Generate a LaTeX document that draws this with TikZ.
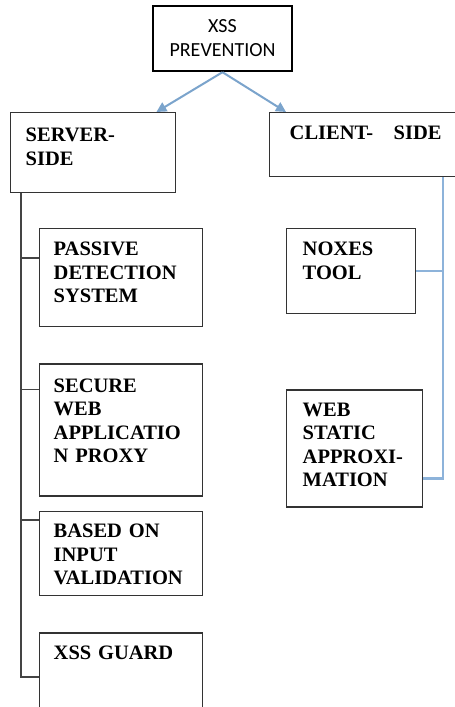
\documentclass[tikz,border=0pt]{standalone}
\usepackage{fontspec}
\setmainfont{Liberation Serif}
\newfontfamily\calibri{Carlito}
\usetikzlibrary{positioning,calc,arrows.meta}
\definecolor{linkblue}{HTML}{7BA4CC}
\definecolor{branchblue}{HTML}{8DB3DA}
\definecolor{boxgray}{HTML}{333333}
\definecolor{treegray}{HTML}{444444}
\tikzset{
    root/.style = {
        draw = black,
        line width = 2.4pt,
        align = center,
        minimum width = 139pt,
        minimum height = 65pt,
        font = \calibri\fontsize{20}{24}\selectfont,
        },
    leaf/.style = {
        draw = boxgray,
        line width = 1.4pt,
        anchor = north west,
        align = left,
        inner xsep = 14pt,
        inner ysep = 0pt,
        text width = 135pt,
        text height = 27pt,
        font = \bfseries\fontsize{20.5}{23.6}\selectfont,
        },
    link/.style = {
        draw = linkblue,
        line width = 2pt,
        -{Triangle[length=10pt,width=10pt]},
        },
    client branch/.style = {
        draw = branchblue,
        line width = 2.2pt,
        },
    server branch/.style = {
        draw = treegray,
        line width = 1.5pt,
        }
}
\begin{document}
\begin{tikzpicture}[x=1pt, y=-1pt]
    \clip (0,0) rectangle (455,707);
    \fill[white] (0,0) rectangle (455,707);

    \node[root] (xss) at (222.5,38.5) {XSS\\PREVENTION};

    \node[leaf, inner xsep=15pt, text height=29pt, text depth=51pt] (server) at (10,112) {SERVER-\\SIDE};
    \node[leaf, inner xsep=20pt, text width=160pt, text depth=37pt] (client) at (269,112) {CLIENT-\ \ \ SIDE};

    % server side
    \node[leaf, text depth=71pt] (passive) at (39,228) {PASSIVE\\DETECTION\\SYSTEM};
    \node[leaf, below=36pt of passive.south west, anchor=north west, text height=28pt, text depth=104pt] (proxy) {SECURE\\WEB\\APPLICATIO\\N PROXY};
    \node[leaf, below=14pt of proxy.south west, anchor=north west, text height=26pt, text depth=58pt] (input) {BASED ON\\INPUT\\VALIDATION};
    \node[leaf, below=36pt of input.south west, anchor=north west, text depth=80pt] (guard) {XSS GUARD};

    % client side
    \node[leaf, inner xsep=16pt, text width=97pt, text depth=58pt] (noxes) at (286,228) {NOXES\\TOOL};
    \node[leaf, below=75pt of noxes.south west, anchor=north west, inner xsep=16pt, text width=104pt, text height=26pt, text depth=91pt] (static) {WEB\\STATIC\\APPROXI-\\MATION};

    \draw[link] (xss.south) -- ($(server.north east)+(-20pt,0)$);
    \draw[link] (xss.south) -- ($(client.north west)+(17pt,0)$);

    \coordinate (strunk) at ($(server.south west)+(11pt,0)$);
    \coordinate (b1) at ($(passive.north west)+(0,-30pt)$);
    \coordinate (b2) at ($(proxy.north west)+(0,-26pt)$);
    \coordinate (b3) at ($(input.north west)+(0,-9pt)$);
    \coordinate (b4) at ($(guard.north west)+(0,-45pt)$);
    \draw[server branch] (strunk) |- (b4);
    \foreach \b in {b1,b2,b3}
        \draw[server branch] (strunk |- \b) -- (\b);

    \coordinate (ctrunk) at ($(client.south west)+(174pt,0)$);
    \coordinate (c2) at ($(static.north east)+(0,-89pt)$);
    \draw[client branch] (ctrunk) |- (c2);
    \draw[client branch] (noxes.east) -- (noxes.east -| ctrunk);
\end{tikzpicture}
\end{document}
